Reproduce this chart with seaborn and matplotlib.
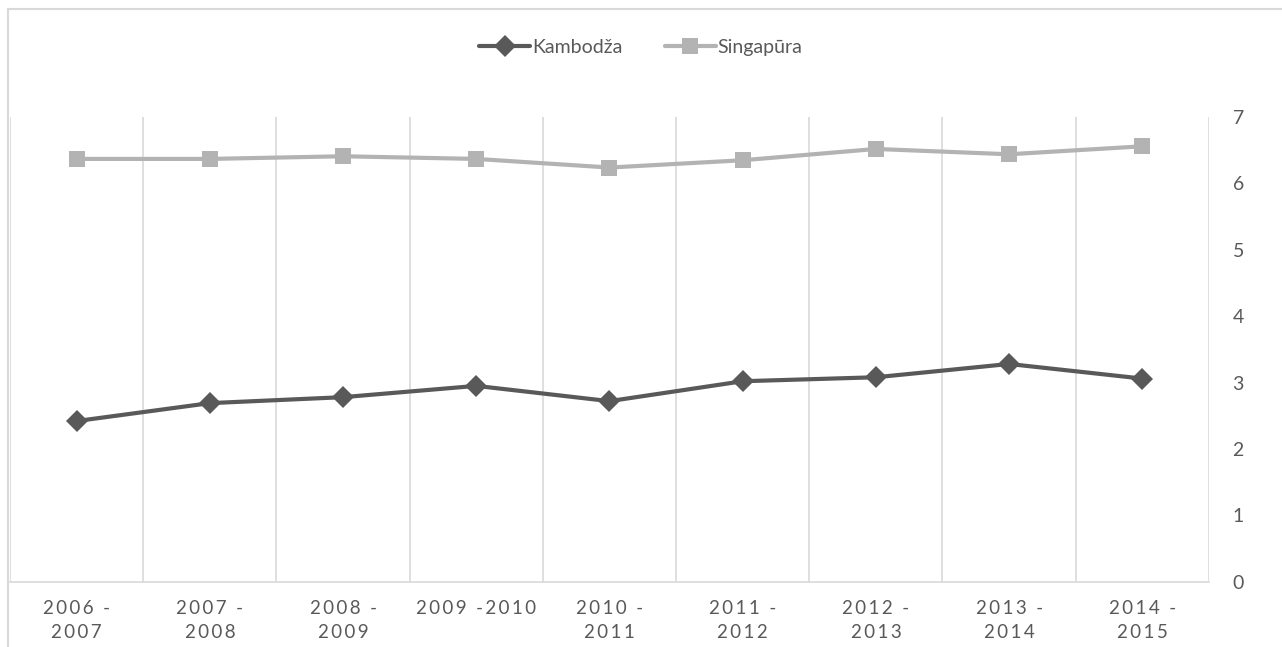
import numpy as np
import pandas as pd
import matplotlib
matplotlib.use("Agg")
import matplotlib.pyplot as plt
import seaborn as sns

# data
periods = ["2006 -\n2007", "2007 -\n2008", "2008 -\n2009", "2009 -2010", "2010 -\n2011",
           "2011 -\n2012", "2012 -\n2013", "2013 -\n2014", "2014 -\n2015"]
kambodza = [2.42, 2.69, 2.78, 2.95, 2.72, 3.02, 3.08, 3.28, 3.06]
singapura = [6.37, 6.37, 6.41, 6.37, 6.24, 6.35, 6.52, 6.44, 6.56]
series_names = ["Kambodža", "Singapūra"]

df = pd.DataFrame({
    "pos": list(range(len(periods))) * 2,
    "value": kambodza + singapura,
    "series": [series_names[0]] * len(periods) + [series_names[1]] * len(periods),
})


def spaced(label):
    # excel style letter spacing on the category labels
    return "\n".join("\u2009".join(line) for line in label.split("\n"))


sns.set_theme(style="white")
plt.rcParams["font.family"] = ["Lato", "DejaVu Sans"]
text_col = "#595959"

fig = plt.figure(figsize=(12.82, 6.47), dpi=100)
ax = fig.add_axes([0.0078, 0.101, 0.9352, 0.718])

palette = {"Kambodža": "#595959", "Singapūra": "#b3b3b3"}
markers = {"Kambodža": "D", "Singapūra": "s"}
sns.lineplot(data=df, x="pos", y="value", hue="series", style="series",
             palette=palette, markers=markers, dashes=False, linewidth=3,
             markersize=11, markeredgewidth=0, ax=ax)

ax.set_xlim(-0.5, len(periods) - 0.5)
ax.set_ylim(0, 7)
ax.set_xticks(range(len(periods)))
ax.set_xticklabels([spaced(p) for p in periods], fontsize=13.5, color=text_col, linespacing=1.5)
ax.set_xticks(np.arange(-0.5, len(periods), 1), minor=True)
ax.xaxis.grid(True, which="minor", color="#d9d9d9", linewidth=1.2)
ax.xaxis.grid(False, which="major")
ax.yaxis.grid(False)
ax.yaxis.tick_right()
ax.set_yticks(range(0, 8))
ax.tick_params(axis="y", labelsize=14, labelcolor=text_col, length=0, pad=17)
ax.tick_params(axis="x", which="both", length=0, pad=13)
ax.set_xlabel("")
ax.set_ylabel("")
for s in ["top", "right", "left"]:
    ax.spines[s].set_visible(False)
ax.spines["bottom"].set_color("#d9d9d9")
ax.spines["bottom"].set_linewidth(1.2)

handles, labels = ax.get_legend_handles_labels()
ax.legend(handles, labels, loc="center", bbox_to_anchor=(0.5, 0.927),
          bbox_transform=fig.transFigure, ncol=2, frameon=False, fontsize=14,
          labelcolor=text_col, handlelength=2.6, handletextpad=0.1, columnspacing=2.2,
          markerscale=1.0)

# outer chart border (cropped: only left and top edges visible)
fig.add_artist(plt.Line2D([0.0066, 0.0066], [0.0, 0.986], transform=fig.transFigure,
                          color="#d9d9d9", linewidth=1.5))
fig.add_artist(plt.Line2D([0.0066, 1.0], [0.986, 0.986], transform=fig.transFigure,
                          color="#d9d9d9", linewidth=1.5))

fig.savefig("out.png", dpi=100)
